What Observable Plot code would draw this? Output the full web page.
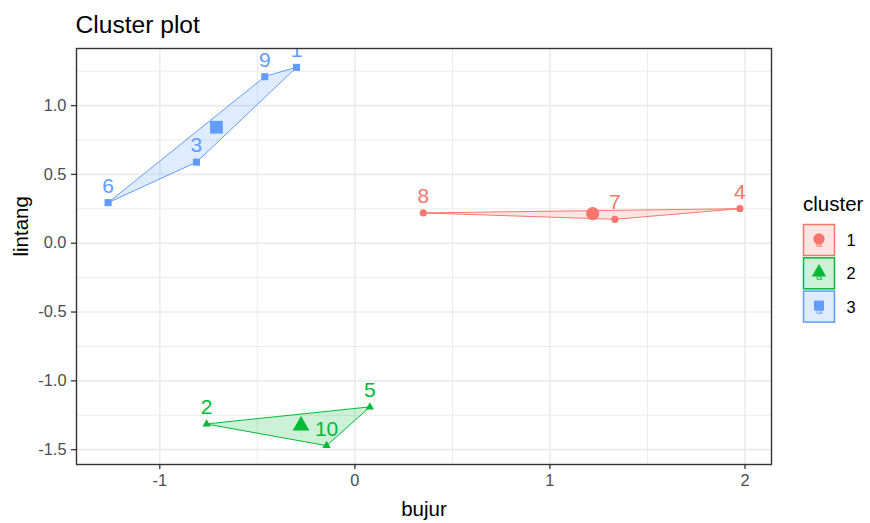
<!DOCTYPE html>
<html><head><meta charset="utf-8">
<script src="https://cdn.jsdelivr.net/npm/d3@7"></script>
<script src="https://cdn.jsdelivr.net/npm/@observablehq/plot@0.6"></script>
<style>
body{margin:0;background:#fff;}
#wrap{position:relative;width:870px;height:523px;font-family:"Liberation Sans",Arial,sans-serif;}
#legend{position:absolute;left:0;top:0;pointer-events:none;}
</style></head><body><div id="wrap"></div>
<script>
// data
const labels = ["1","2","3","4","5","6","7","8","9","10"];
const bujur = [-0.299, -0.760, -0.812, 1.974, 0.077, -1.265, 1.333, 0.351, -0.462, -0.145];
const lintang = [1.278, -1.314, 0.589, 0.251, -1.191, 0.295, 0.174, 0.220, 1.210, -1.471];
const cluster = [3, 2, 3, 1, 2, 3, 1, 1, 3, 2];
const clusterIds = [1, 2, 3];
const clusterColors = ["#F8766D", "#00BA38", "#619CFF"];
const clusterSymbols = ["circle", "triangle", "square"];
const xTicks = [-1, 0, 1, 2];
const yTicks = [-1.5, -1, -0.5, 0, 0.5, 1];
const xMinor = [-0.5, 0.5, 1.5];
const yMinor = [-1.25, -0.75, -0.25, 0.25, 0.75, 1.25];
const xDomain = [-1.427, 2.136];
const yDomain = [-1.608, 1.415];

const FONT = '"Liberation Sans", Arial, sans-serif';
const points = labels.map((l, i) => ({label: l, x: bujur[i], y: lintang[i], cluster: cluster[i]}));

const marks = [
  Plot.ruleX(xMinor, {stroke: "#EBEBEB", strokeWidth: 1}),
  Plot.ruleY(yMinor, {stroke: "#EBEBEB", strokeWidth: 1}),
  Plot.ruleX(xTicks, {stroke: "#EBEBEB", strokeWidth: 1.6}),
  Plot.ruleY(yTicks, {stroke: "#EBEBEB", strokeWidth: 1.6})
];

const smallR = {circle: 3.6, triangle: 3.1, square: 4.0};
const bigR = {circle: 6.6, triangle: 6.2, square: 7.2};

clusterIds.forEach((c, k) => {
  const pts = points.filter(d => d.cluster === c);
  const hull = (d3.polygonHull(pts.map(d => [d.x, d.y])) || pts.map(d => [d.x, d.y]))
    .map(([x, y]) => ({x, y}));
  const col = clusterColors[k];
  const sym = clusterSymbols[k];
  const center = [{x: d3.mean(pts, d => d.x), y: d3.mean(pts, d => d.y)}];
  marks.push(
    Plot.line(hull, {x: "x", y: "y", stroke: col, fill: col, fillOpacity: 0.2, strokeWidth: 1, curve: "linear-closed"}),
    Plot.dot(pts, {x: "x", y: "y", symbol: sym, fill: col, r: smallR[sym]}),
    Plot.dot(center, {x: "x", y: "y", symbol: sym, fill: col, r: bigR[sym]}),
    Plot.text(pts, {x: "x", y: "y", text: "label", fill: col, fontSize: 21, lineAnchor: "bottom", dy: -10, clip: "frame"})
  );
});

marks.push(
  Plot.frame({stroke: "#333333", strokeWidth: 1.4}),
  Plot.axisX(xTicks, {tickSize: 5, tickPadding: 5, fontSize: 16.4, label: null, stroke: "#333333", fill: "#4D4D4D", strokeWidth: 1.3, tickFormat: d => String(d)}),
  Plot.axisY(yTicks, {tickSize: 5, tickPadding: 5, fontSize: 16.4, label: null, stroke: "#333333", fill: "#4D4D4D", strokeWidth: 1.3, tickFormat: d => d.toFixed(1)}),
  Plot.text(["bujur"], {frameAnchor: "bottom", dy: 45, lineAnchor: "middle", fontSize: 20.5, fill: "#000"}),
  Plot.text(["lintang"], {frameAnchor: "left", dx: -55, rotate: -90, lineAnchor: "middle", fontSize: 20.5, fill: "#000"}),
  Plot.text(["Cluster plot"], {frameAnchor: "top-left", textAnchor: "start", dy: -23, dx: -1, lineAnchor: "middle", fontSize: 24.6, fill: "#000"})
);

const chart = Plot.plot({
  width: 870, height: 523,
  marginLeft: 76, marginRight: 99, marginTop: 48, marginBottom: 59,
  x: {domain: xDomain},
  y: {domain: yDomain},
  style: {fontFamily: FONT, background: "#fff"},
  marks
});
document.getElementById("wrap").appendChild(chart);

// legend
const lg = d3.select("#wrap").append("svg").attr("id", "legend").attr("width", 870).attr("height", 523)
  .style("font-family", FONT);
lg.append("text").attr("x", 803).attr("y", 211).attr("font-size", 20.5).attr("fill", "#000").text("cluster");
clusterIds.forEach((c, k) => {
  const y0 = 224.5 + k * 33.3;
  const col = clusterColors[k];
  lg.append("rect").attr("x", 803.5).attr("y", y0).attr("width", 31).attr("height", 31)
    .attr("fill", col).attr("fill-opacity", 0.2).attr("stroke", col).attr("stroke-width", 1.5);
  const cx = 819, cy = y0 + 15.5;
  lg.append("text").attr("x", cx).attr("y", cy + 7).attr("text-anchor", "middle").attr("font-size", 11)
    .attr("fill", col).text("a");
  const symType = {circle: d3.symbolCircle, triangle: d3.symbolTriangle, square: d3.symbolSquare}[clusterSymbols[k]];
  lg.append("path").attr("transform", `translate(${cx},${cy - 1})`)
    .attr("d", d3.symbol(symType, clusterSymbols[k] === "triangle" ? 90 : 100)()).attr("fill", col);
  lg.append("text").attr("x", 846.5).attr("y", cy + 6).attr("font-size", 16.4).attr("fill", "#000").text(String(c));
});
</script></body></html>
